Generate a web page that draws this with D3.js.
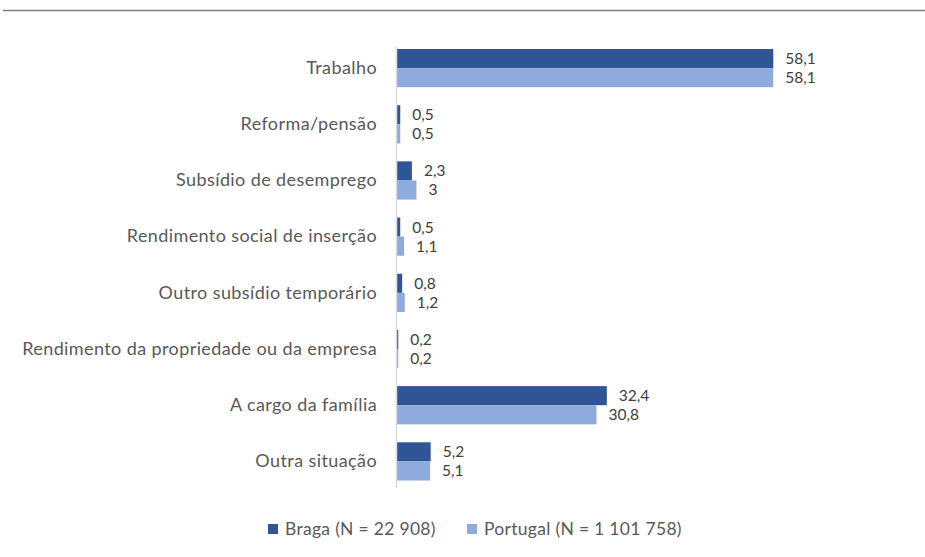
<!DOCTYPE html>
<html>
<head>
<meta charset="utf-8">
<style>
    body { margin: 0; background: white; }
    svg { display: block; font-family: Lato, "Open Sans", "Liberation Sans", Arial, sans-serif; }
    .cat text { font-size: 18px; letter-spacing: 0.4px; fill: #595959; }
    .val { font-size: 15.5px; fill: #404040; }
    .legend text { font-size: 17.5px; letter-spacing: 0.3px; fill: #595959; }
</style>
</head>
<body>
<svg width="925" height="557"></svg>
<script src="https://d3js.org/d3.v7.min.js"></script>
<script>
    let categories = ["Trabalho", "Reforma/pensão", "Subsídio de desemprego", "Rendimento social de inserção",
        "Outro subsídio temporário", "Rendimento da propriedade ou da empresa", "A cargo da família", "Outra situação"]
    let braga = [58.1, 0.5, 2.3, 0.5, 0.8, 0.2, 32.4, 5.2]
    let portugal = [58.1, 0.5, 3, 1.1, 1.2, 0.2, 30.8, 5.1]
    let seriesNames = ["Braga (N = 22 908)", "Portugal (N = 1 101 758)"]
    let colors = ["#2F5597", "#8FAADC"]

    let svg = d3.select("svg")

    // thin rule along the top
    svg.append("line")
        .attr("x1", 3).attr("x2", 925)
        .attr("y1", 10.5).attr("y2", 10.5)
        .style("stroke", "#7f7f7f")
        .style("stroke-width", 1.3)

    let x0 = 397
    let x = d3.scaleLinear().domain([0, 58.1]).range([x0, 773.3])

    let y = d3.scaleBand().domain(categories).range([40, 489.5]).paddingInner(0.32).paddingOuter(0.16)
    let sub = d3.scaleBand().domain([0, 1]).range([0, y.bandwidth()])

    let rows = categories.map((c, i) => ({ cat: c, vals: [braga[i], portugal[i]] }))

    // category axis on the left
    let yAxis = svg.append("g")
        .attr("class", "cat")
        .attr("transform", `translate(${x0},0)`)
        .call(d3.axisLeft(y).tickSize(0).tickPadding(20))
    yAxis.select(".domain").remove()
    yAxis.attr("font-family", null).attr("font-size", null)

    let groups = svg.append("g")
        .selectAll("g")
        .data(rows)
        .join("g")
        .attr("transform", d => `translate(0,${y(d.cat)})`)

    groups.selectAll("rect")
        .data(d => d.vals)
        .join("rect")
        .attr("x", x(0))
        .attr("y", (d, i) => sub(i))
        .attr("width", d => x(d) - x(0))
        .attr("height", sub.bandwidth())
        .style("fill", (d, i) => colors[i])

    groups.selectAll("text")
        .data(d => d.vals)
        .join("text")
        .attr("class", "val")
        .attr("x", d => x(d) + 12)
        .attr("y", (d, i) => sub(i) + sub.bandwidth() / 2)
        .attr("dy", "0.35em")
        .text(d => String(d).replace(".", ","))

    // vertical axis line
    svg.append("line")
        .attr("x1", x0 - 0.5).attr("x2", x0 - 0.5)
        .attr("y1", 47).attr("y2", 488)
        .style("stroke", "#d9d9d9")
        .style("stroke-width", 1.5)

    // legend
    let legendX = [268, 467]
    let legend = svg.append("g").attr("class", "legend")
        .selectAll("g")
        .data(seriesNames)
        .join("g")
        .attr("transform", (d, i) => `translate(${legendX[i]},524)`)
    legend.append("rect")
        .attr("width", 10).attr("height", 10)
        .style("fill", (d, i) => colors[i])
    legend.append("text")
        .attr("x", 17).attr("y", 5)
        .attr("dy", "0.35em")
        .text(d => d)
</script>
</body>
</html>
